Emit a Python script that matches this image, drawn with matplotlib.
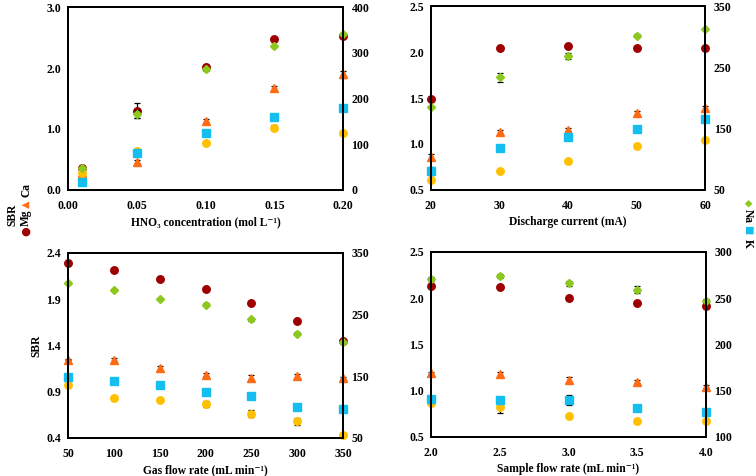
import matplotlib

matplotlib.use("Agg")

import matplotlib.pyplot as plt

plt.rcParams["font.family"] = ["Liberation Serif", "DejaVu Serif"]
plt.rcParams["font.weight"] = "bold"

# colours (Excel-like palette)
C_MG = "#9e0000"
C_CA = "#ff6a14"
C_NA = "#8cc81e"
C_K = "#14bff0"
C_AU = "#ffc000"

# ---- panel a: HNO3 concentration ----
hno3 = [0.01, 0.05, 0.10, 0.15, 0.20]
hno3_mg = [0.36, 1.30, 2.02, 2.47, 2.52]
hno3_mg_err = [0.0, 0.12, 0.03, 0.03, 0.02]
hno3_ca = [0.28, 0.46, 1.13, 1.67, 1.90]
hno3_ca_err = [0.0, 0.03, 0.03, 0.03, 0.06]
hno3_au = [0.27, 0.64, 0.77, 1.02, 0.93]
hno3_au_err = [0.0, 0.0, 0.0, 0.04, 0.0]
hno3_na = [49, 166, 264, 315, 342]
hno3_na_err = [0, 8, 3, 3, 2]
hno3_k = [17, 81, 125, 159, 180]
hno3_k_err = [0, 2, 2, 2, 2]

# ---- panel b: discharge current ----
cur = [20, 30, 40, 50, 60]
cur_mg = [1.49, 2.05, 2.07, 2.045, 2.05]
cur_mg_err = [0.0, 0.0, 0.0, 0.0, 0.0]
cur_ca = [0.86, 1.13, 1.157, 1.34, 1.39]
cur_ca_err = [0.03, 0.02, 0.02, 0.02, 0.02]
cur_au = [0.61, 0.71, 0.81, 0.976, 1.04]
cur_au_err = [0.0, 0.0, 0.0, 0.0, 0.0]
cur_na = [185, 234, 269, 302, 313]
cur_na_err = [2, 7, 5, 2, 2]
cur_k = [81, 119, 137, 150, 166]
cur_k_err = [6, 2, 3, 3, 2]

# ---- panel c: gas flow rate ----
gas = [50, 100, 150, 200, 250, 300, 350]
gas_mg = [2.285, 2.21, 2.12, 2.01, 1.86, 1.66, 1.445]
gas_mg_err = [0.0, 0.0, 0.0, 0.0, 0.0, 0.0, 0.0]
gas_ca = [1.247, 1.247, 1.157, 1.085, 1.049, 1.067, 1.049]
gas_ca_err = [0.01, 0.02, 0.02, 0.02, 0.03, 0.02, 0.01]
gas_au = [0.97, 0.836, 0.81, 0.768, 0.663, 0.58, 0.43]
gas_au_err = [0.0, 0.0, 0.0, 0.03, 0.04, 0.04, 0.0]
gas_na = [301, 290, 275, 266, 242, 219, 205]
gas_na_err = [2, 2, 2, 2, 2, 2, 2]
gas_k = [149, 142, 135, 125, 118, 100, 97]
gas_k_err = [2, 2, 2, 2, 2, 2, 2]

# ---- panel d: sample flow rate ----
samp = [2.0, 2.5, 3.0, 3.5, 4.0]
samp_mg = [2.136, 2.118, 1.999, 1.952, 1.916]
samp_mg_err = [0.0, 0.0, 0.0, 0.0, 0.0]
samp_ca = [1.195, 1.181, 1.116, 1.098, 1.044]
samp_ca_err = [0.01, 0.02, 0.03, 0.02, 0.02]
samp_au = [0.871, 0.824, 0.727, 0.673, 0.673]
samp_au_err = [0.0, 0.06, 0.0, 0.0, 0.0]
samp_na = [271, 274, 266, 259, 247]
samp_na_err = [2, 2, 3, 4, 2]
samp_k = [141, 140, 140, 131, 127]
samp_k_err = [2, 2, 5, 2, 2]

panels = [
    dict(pos=[0.090, 0.601, 0.364, 0.384], x=hno3, xlim=(0.0, 0.20),
         xticks=[0.00, 0.05, 0.10, 0.15, 0.20], xfmt="{:.2f}",
         xlabel="HNO₃ concentration (mol L⁻¹)",
         ylim=(0.0, 3.0), yticks=[0.0, 1.0, 2.0, 3.0],
         y2lim=(0, 400), y2ticks=[0, 100, 200, 300, 400],
         mg=(hno3_mg, hno3_mg_err), ca=(hno3_ca, hno3_ca_err), au=(hno3_au, hno3_au_err),
         na=(hno3_na, hno3_na_err), k=(hno3_k, hno3_k_err), ylabel=None),
    dict(pos=[0.570, 0.601, 0.363, 0.386], x=cur, xlim=(20, 60),
         xticks=[20, 30, 40, 50, 60], xfmt="{:.0f}",
         xlabel="Discharge current (mA)",
         ylim=(0.5, 2.5), yticks=[0.5, 1.0, 1.5, 2.0, 2.5],
         y2lim=(50, 350), y2ticks=[50, 150, 250, 350],
         mg=(cur_mg, cur_mg_err), ca=(cur_ca, cur_ca_err), au=(cur_au, cur_au_err),
         na=(cur_na, cur_na_err), k=(cur_k, cur_k_err), ylabel=None),
    dict(pos=[0.090, 0.080, 0.364, 0.389], x=gas, xlim=(50, 350),
         xticks=[50, 100, 150, 200, 250, 300, 350], xfmt="{:.0f}",
         xlabel="Gas flow rate (mL min⁻¹)",
         ylim=(0.4, 2.4), yticks=[0.4, 0.9, 1.4, 1.9, 2.4],
         y2lim=(50, 350), y2ticks=[50, 150, 250, 350],
         mg=(gas_mg, gas_mg_err), ca=(gas_ca, gas_ca_err), au=(gas_au, gas_au_err),
         na=(gas_na, gas_na_err), k=(gas_k, gas_k_err), ylabel="SBR"),
    dict(pos=[0.570, 0.082, 0.364, 0.389], x=samp, xlim=(2.0, 4.0),
         xticks=[2.0, 2.5, 3.0, 3.5, 4.0], xfmt="{:.1f}",
         xlabel="Sample flow rate (mL min⁻¹)",
         ylim=(0.5, 2.5), yticks=[0.5, 1.0, 1.5, 2.0, 2.5],
         y2lim=(100, 300), y2ticks=[100, 150, 200, 250, 300],
         mg=(samp_mg, samp_mg_err), ca=(samp_ca, samp_ca_err), au=(samp_au, samp_au_err),
         na=(samp_na, samp_na_err), k=(samp_k, samp_k_err), ylabel=None),
]

fig = plt.figure(figsize=(7.56, 4.76), dpi=100)
FS = 8.5
LFS = 8.3
ebkw = dict(linestyle="none", ecolor="black", elinewidth=0.9, capsize=2, capthick=0.9)

for p in panels:
    ax = fig.add_axes(p["pos"])
    ax2 = ax.twinx()
    x = p["x"]
    ax.errorbar(x, p["mg"][0], yerr=p["mg"][1], marker="o", ms=5.4, color=C_MG, **ebkw)
    ax.errorbar(x, p["ca"][0], yerr=p["ca"][1], marker="^", ms=6, color=C_CA, **ebkw)
    ax.errorbar(x, p["au"][0], yerr=p["au"][1], marker="o", ms=5.4, color=C_AU, **ebkw)
    ax2.errorbar(x, p["na"][0], yerr=p["na"][1], marker="D", ms=4.5, color=C_NA, **ebkw)
    ax2.errorbar(x, p["k"][0], yerr=p["k"][1], marker="s", ms=5.2, color=C_K, **ebkw)

    ax.set_xlim(*p["xlim"])
    ax.set_ylim(*p["ylim"])
    ax2.set_ylim(*p["y2lim"])
    ax.set_xticks(p["xticks"])
    ax.set_xticklabels([p["xfmt"].format(v) for v in p["xticks"]], fontsize=FS, fontweight="bold")
    ax.set_yticks(p["yticks"])
    ax.set_yticklabels(["{:.1f}".format(v) for v in p["yticks"]], fontsize=FS, fontweight="bold")
    ax2.set_yticks(p["y2ticks"])
    ax2.set_yticklabels([str(v) for v in p["y2ticks"]], fontsize=FS, fontweight="bold")
    ax.tick_params(axis="x", length=0, pad=7)
    ax.tick_params(axis="y", length=0, pad=5)
    ax2.tick_params(length=0, pad=6)
    for a in (ax, ax2):
        for s in a.spines.values():
            s.set_linewidth(1.4)
    ax.set_xlabel(p["xlabel"], fontsize=LFS, fontweight="bold", labelpad=3)
    if p["ylabel"]:
        ax.set_ylabel(p["ylabel"], fontsize=LFS, fontweight="bold", labelpad=3)
    for a in (ax, ax2):
        for c in a.get_children():
            try:
                c.set_clip_on(False)
            except AttributeError:
                pass

# scattered legend fragments (as in the original figure)
fig.text(12 / 756, 1 - 215 / 476, "SBR", rotation=90, ha="center", va="center",
         fontsize=LFS, fontweight="bold")
fig.text(26 / 756, 1 - 231 / 476, "●", rotation=90, ha="center", va="center",
         fontsize=8, color=C_MG, family=["DejaVu Sans"])
fig.text(26 / 756, 1 - 218 / 476, "Mg", rotation=90, ha="center", va="center",
         fontsize=LFS, fontweight="bold")
fig.text(26 / 756, 1 - 204 / 476, "▲", rotation=90, ha="center", va="center",
         fontsize=7, color=C_CA, family=["DejaVu Sans"])
fig.text(26 / 756, 1 - 190 / 476, "Ca", rotation=90, ha="center", va="center",
         fontsize=LFS, fontweight="bold")

fig.text(748 / 756, 1 - 203 / 476, "◆", rotation=-90, ha="center", va="center",
         fontsize=7, color=C_NA, family=["DejaVu Sans"])
fig.text(748 / 756, 1 - 216 / 476, "Na", rotation=-90, ha="center", va="center",
         fontsize=LFS, fontweight="bold")
fig.text(748 / 756, 1 - 230 / 476, "■", rotation=-90, ha="center", va="center",
         fontsize=7, color=C_K, family=["DejaVu Sans"])
fig.text(748 / 756, 1 - 243 / 476, "K", rotation=-90, ha="center", va="center",
         fontsize=LFS, fontweight="bold")

fig.savefig("out.png", dpi=100)
plt.close(fig)
